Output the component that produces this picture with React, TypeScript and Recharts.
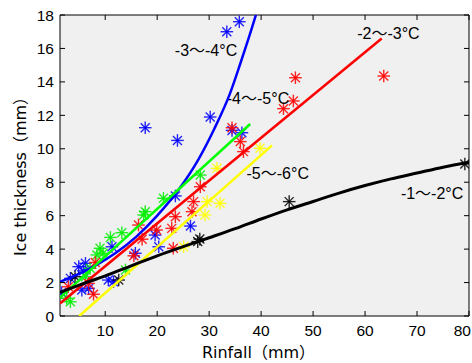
import React from 'react';
import { ComposedChart, XAxis, YAxis, Scatter, Line, CartesianGrid, ReferenceDot } from 'recharts';

const xTicks = [10, 20, 30, 40, 50, 60, 70, 80];
const yTicks = [0, 2, 4, 6, 8, 10, 12, 14, 16, 18];

const xLabel = 'Rinfall（mm）';
const yLabel = 'Ice thickness（mm）';

const bluePoints = [
  { x: 1.6, y: 1.4 }, { x: 3.3, y: 2.25 }, { x: 4.9, y: 2.95 }, { x: 5.5, y: 1.55 },
  { x: 5.8, y: 2.7 }, { x: 6.2, y: 3.15 }, { x: 6.8, y: 1.65 }, { x: 10.6, y: 2.15 },
  { x: 11.3, y: 4.14 }, { x: 11.6, y: 2.05 }, { x: 15.8, y: 3.75 }, { x: 17.7, y: 11.26 },
  { x: 19.6, y: 4.84 }, { x: 20.3, y: 4.14 }, { x: 23.5, y: 7.18 }, { x: 23.9, y: 10.5 },
  { x: 26.4, y: 5.38 }, { x: 30.2, y: 11.9 }, { x: 33.4, y: 17.0 }, { x: 34.4, y: 11.1 },
  { x: 35.8, y: 17.6 }, { x: 36.3, y: 10.96 },
];
const greenPoints = [
  { x: 2.6, y: 1.06 }, { x: 3.3, y: 0.85 }, { x: 6.2, y: 2.35 }, { x: 7.1, y: 2.85 },
  { x: 8.4, y: 3.65 }, { x: 9.0, y: 4.05 }, { x: 9.6, y: 3.75 }, { x: 11.0, y: 4.7 },
  { x: 13.2, y: 4.98 }, { x: 13.9, y: 2.75 }, { x: 17.4, y: 6.04 }, { x: 17.7, y: 6.24 },
  { x: 21.2, y: 7.04 }, { x: 28.3, y: 8.43 },
];
const redPoints = [
  { x: 2.9, y: 1.75 }, { x: 6.8, y: 1.95 }, { x: 7.75, y: 1.3 }, { x: 8.1, y: 3.2 },
  { x: 15.5, y: 3.6 }, { x: 16.4, y: 5.44 }, { x: 17.1, y: 4.59 }, { x: 19.9, y: 5.14 },
  { x: 22.8, y: 5.24 }, { x: 23.1, y: 4.05 }, { x: 23.5, y: 5.94 }, { x: 26.7, y: 6.24 },
  { x: 27.0, y: 6.84 }, { x: 28.3, y: 7.73 }, { x: 34.4, y: 11.26 }, { x: 36.0, y: 10.43 },
  { x: 36.6, y: 9.83 }, { x: 44.3, y: 12.4 }, { x: 46.2, y: 12.86 }, { x: 46.6, y: 14.25 },
  { x: 63.6, y: 14.35 },
];
const yellowPoints = [
  { x: 25.1, y: 4.14 }, { x: 29.2, y: 6.04 }, { x: 29.6, y: 6.84 }, { x: 31.5, y: 8.83 },
  { x: 32.1, y: 6.74 }, { x: 39.8, y: 10.03 },
];
const blackPoints = [
  { x: 4.2, y: 2.35 }, { x: 12.6, y: 2.15 }, { x: 27.8, y: 4.45 }, { x: 28.2, y: 4.6 },
  { x: 45.4, y: 6.84 }, { x: 79.2, y: 9.09 },
];

const blueFit = [
  { x: 1.3, y: 2.05 }, { x: 4, y: 2.39 }, { x: 8, y: 3.0 }, { x: 12, y: 3.77 },
  { x: 16, y: 4.75 }, { x: 20, y: 6.0 }, { x: 24, y: 7.5 }, { x: 28, y: 9.4 },
  { x: 31, y: 11.2 }, { x: 34, y: 13.3 }, { x: 36, y: 15.1 }, { x: 38, y: 17.0 },
  { x: 39, y: 18.0 },
];
const greenFit = [{ x: 1.3, y: 1.1 }, { x: 37.9, y: 11.48 }];
const redFit = [{ x: 1.3, y: 0.75 }, { x: 63.2, y: 16.6 }];
const yellowFit = [{ x: 5.0, y: 0 }, { x: 42.1, y: 10.2 }];
const blackFit = [
  { x: 1.3, y: 1.42 }, { x: 5, y: 1.85 }, { x: 10, y: 2.4 }, { x: 15, y: 3.0 },
  { x: 20, y: 3.6 }, { x: 25, y: 4.15 }, { x: 30, y: 4.68 }, { x: 35, y: 5.22 },
  { x: 40, y: 5.8 }, { x: 45, y: 6.35 }, { x: 50, y: 6.85 }, { x: 55, y: 7.35 },
  { x: 60, y: 7.8 }, { x: 65, y: 8.2 }, { x: 70, y: 8.55 }, { x: 75, y: 8.9 },
  { x: 80, y: 9.2 },
];

const annotations = [
  { x: 29.4, y: 15.9, text: '-3～-4°C' },
  { x: 64.5, y: 16.93, text: '-2～-3°C' },
  { x: 39.4, y: 13.02, text: '-4～-5°C' },
  { x: 43.2, y: 8.53, text: '-5～-6°C' },
  { x: 72.9, y: 7.34, text: '-1～-2°C' },
];

const TICK_FONT = '"Liberation Sans", Arial, "Noto Sans CJK SC", sans-serif';
const TITLE_FONT = '"DejaVu Sans", "Noto Sans CJK SC", sans-serif';

const makeStar = (color: string) => (p: any) => {
  const { cx, cy } = p;
  if (cx == null || cy == null) return <g />;
  const a = 6.3;
  const d = 4.5;
  return (
    <g stroke={color} strokeWidth={1.4} strokeOpacity={0.85}>
      <line x1={cx - a} x2={cx + a} y1={cy} y2={cy} />
      <line x1={cx} x2={cx} y1={cy - a} y2={cy + a} />
      <line x1={cx - d} x2={cx + d} y1={cy - d} y2={cy + d} />
      <line x1={cx - d} x2={cx + d} y1={cy + d} y2={cy - d} />
    </g>
  );
};

const BottomTick = (props: any) => {
  const { x, y, payload } = props;
  const last = payload.value === xTicks[xTicks.length - 1];
  return (
    <g>
      <line x1={x} x2={x} y1={y} y2={y - 5} stroke="#000" />
      <text x={last ? 471 : x} y={y + 20} textAnchor={last ? 'end' : 'middle'} fontSize={15.5} fontFamily={TICK_FONT} fill="#000">
        {payload.value}
      </text>
    </g>
  );
};
const TopTick = (props: any) => {
  const { x, y } = props;
  return <line x1={x} x2={x} y1={y} y2={y + 5} stroke="#000" />;
};
const LeftTick = (props: any) => {
  const { x, y, payload } = props;
  return (
    <g>
      <line x1={x} x2={x + 5} y1={y} y2={y} stroke="#000" />
      <text x={x - 6} y={y + 5.5} textAnchor="end" fontSize={15.5} fontFamily={TICK_FONT} fill="#000">
        {payload.value}
      </text>
    </g>
  );
};
const RightTick = (props: any) => {
  const { x, y } = props;
  return <line x1={x} x2={x - 5} y1={y} y2={y} stroke="#000" />;
};

const AnnotationShape = (text: string) => (p: any) => (
  <text x={p.cx} y={p.cy} dy="0.36em" textAnchor="middle" fontSize={16} fontFamily={TICK_FONT} fill="#000">
    {text}
  </text>
);

export default function App() {
  return (
    <div style={{ position: 'absolute', left: 0, top: 0, width: 472, height: 363, background: '#fff' }}>
      <ComposedChart width={472} height={363} margin={{ top: 0, right: 0, bottom: 0, left: 0 }}>
        <CartesianGrid horizontal={false} vertical={false} fill="#f0f0f0" />
        <XAxis
          xAxisId="b"
          dataKey="x"
          type="number"
          domain={[1.3, 80]}
          ticks={xTicks}
          interval={0}
          height={47}
          allowDataOverflow
          tickSize={0}
          tickMargin={0}
          tickLine={false}
          axisLine={{ stroke: '#000' }}
          tick={BottomTick}
        />
        <XAxis
          xAxisId="t"
          orientation="top"
          dataKey="x"
          type="number"
          domain={[1.3, 80]}
          ticks={xTicks}
          interval={0}
          height={15}
          allowDataOverflow
          tickSize={0}
          tickMargin={0}
          tickLine={false}
          axisLine={{ stroke: '#000' }}
          tick={TopTick}
        />
        <YAxis
          yAxisId="l"
          type="number"
          domain={[0, 18]}
          ticks={yTicks}
          interval={0}
          width={60}
          allowDataOverflow
          tickSize={0}
          tickMargin={0}
          tickLine={false}
          axisLine={{ stroke: '#000' }}
          tick={LeftTick}
        />
        <YAxis
          yAxisId="r"
          orientation="right"
          type="number"
          domain={[0, 18]}
          ticks={yTicks}
          interval={0}
          width={3}
          allowDataOverflow
          tickSize={0}
          tickMargin={0}
          tickLine={false}
          axisLine={{ stroke: '#000' }}
          tick={RightTick}
        />

        <Scatter xAxisId="b" yAxisId="l" data={bluePoints} dataKey="y" shape={makeStar('#0000ff')} isAnimationActive={false} />
        <Scatter xAxisId="b" yAxisId="l" data={greenPoints} dataKey="y" shape={makeStar('#00ee00')} isAnimationActive={false} />
        <Scatter xAxisId="b" yAxisId="l" data={redPoints} dataKey="y" shape={makeStar('#ff0000')} isAnimationActive={false} />
        <Scatter xAxisId="b" yAxisId="l" data={yellowPoints} dataKey="y" shape={makeStar('#ffff00')} isAnimationActive={false} />
        <Scatter xAxisId="b" yAxisId="l" data={blackPoints} dataKey="y" shape={makeStar('#000000')} isAnimationActive={false} />

        <Line xAxisId="b" yAxisId="l" data={blueFit} dataKey="y" type="monotone" stroke="#0000ff" strokeWidth={2.5} dot={false} activeDot={false} isAnimationActive={false} zIndex={700} />
        <Line xAxisId="b" yAxisId="l" data={greenFit} dataKey="y" type="linear" stroke="#00ff00" strokeWidth={2.5} dot={false} activeDot={false} isAnimationActive={false} zIndex={700} />
        <Line xAxisId="b" yAxisId="l" data={redFit} dataKey="y" type="linear" stroke="#ff0000" strokeWidth={2.5} dot={false} activeDot={false} isAnimationActive={false} zIndex={700} />
        <Line xAxisId="b" yAxisId="l" data={yellowFit} dataKey="y" type="linear" stroke="#ffff00" strokeWidth={2.5} dot={false} activeDot={false} isAnimationActive={false} zIndex={700} />
        <Line xAxisId="b" yAxisId="l" data={blackFit} dataKey="y" type="monotone" stroke="#000000" strokeWidth={3} dot={false} activeDot={false} isAnimationActive={false} zIndex={700} />

        {annotations.map((a) => (
          <ReferenceDot key={a.text} xAxisId="b" yAxisId="l" x={a.x} y={a.y} r={0} shape={AnnotationShape(a.text)} />
        ))}
      </ComposedChart>
      <svg width={472} height={363} style={{ position: 'absolute', left: 0, top: 0, pointerEvents: 'none' }}>
        <text x={258.5} y={358} textAnchor="middle" fontSize={16} fontFamily={TITLE_FONT} fill="#000">{xLabel}</text>
        <text transform="translate(26,172.5) rotate(-90)" textAnchor="middle" fontSize={16} fontFamily={TITLE_FONT} fill="#000">{yLabel}</text>
      </svg>
    </div>
  );
}
